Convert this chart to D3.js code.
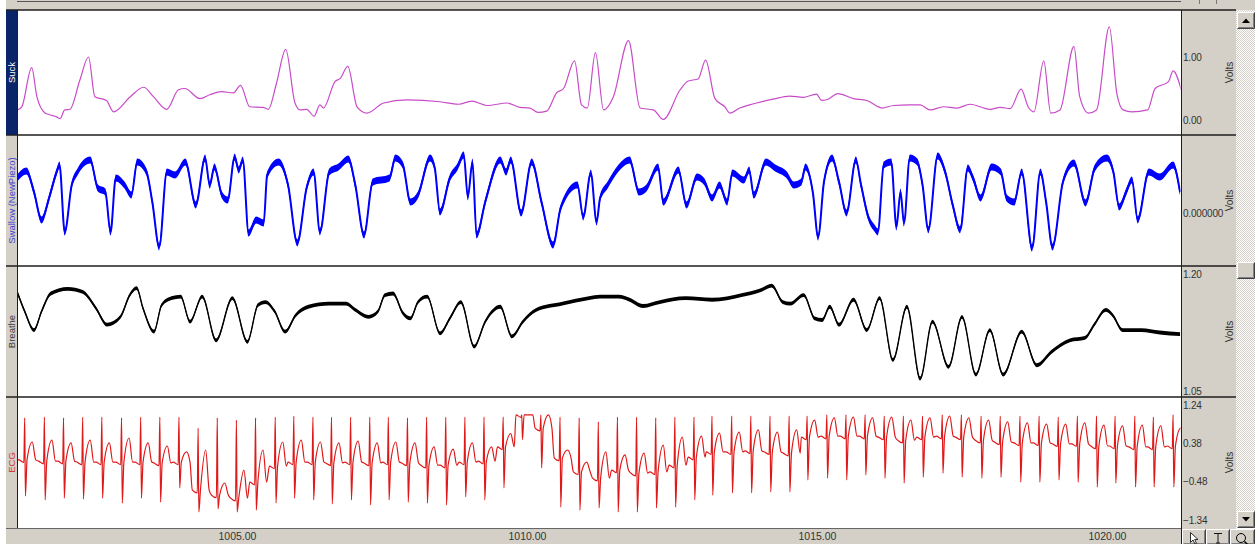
<!DOCTYPE html>
<html>
<head>
<meta charset="utf-8">
<script src="https://cdn.jsdelivr.net/npm/d3@7"></script>
<style>
  body { margin: 0; background: #fff; overflow: hidden; }
  text { font-family: Arial, "Liberation Sans", sans-serif; }
</style>
</head>
<body>
<div id="main"></div>
<script>
// time window shown (s) and the bottom tick labels
const timeRange = [1001.207, 1021.276];
const timeTicks = [1005, 1010, 1015, 1020];

// right hand tick values per channel
const suckTicks = [0, 1];
const swallowTicks = [0];
const breatheTicks = [1.05, 1.20];
const ecgTicks = [-1.34, -0.48, 0.38, 1.24];

// Suck (V) : [time, value]
const suckData = [
  [1001.21, 0.16], [1001.29, 0.21], [1001.46, 0.83], [1001.55, 0.37], [1001.69, 0.11], [1001.78, 0.08],
  [1001.89, 0.05], [1001.95, 0.02], [1002.03, 0.16], [1002.12, 0.17], [1002.29, 0.63], [1002.44, 1.00],
  [1002.55, 0.37], [1002.75, 0.31], [1002.87, 0.13], [1003.16, 0.37], [1003.39, 0.52], [1003.56, 0.37],
  [1003.79, 0.17], [1003.99, 0.48], [1004.10, 0.50], [1004.36, 0.34], [1004.53, 0.40], [1004.73, 0.45],
  [1004.94, 0.43], [1005.06, 0.55], [1005.22, 0.21], [1005.45, 0.20], [1005.54, 0.17], [1005.68, 0.58],
  [1005.84, 1.12], [1006.00, 0.27], [1006.09, 0.16], [1006.20, 0.17], [1006.33, 0.06], [1006.43, 0.24],
  [1006.49, 0.19], [1006.69, 0.61], [1006.78, 0.66], [1006.91, 0.85], [1007.07, 0.21], [1007.24, 0.11],
  [1007.53, 0.27], [1007.93, 0.32], [1008.50, 0.29], [1008.82, 0.25], [1009.05, 0.30], [1009.31, 0.23],
  [1009.66, 0.27], [1009.88, 0.20], [1010.05, 0.19], [1010.19, 0.12], [1010.34, 0.14], [1010.51, 0.43],
  [1010.63, 0.50], [1010.82, 0.94], [1010.94, 0.24], [1011.04, 0.19], [1011.18, 1.07], [1011.32, 0.16],
  [1011.49, 0.37], [1011.75, 1.26], [1011.95, 0.19], [1012.18, 0.16], [1012.35, 0.01], [1012.64, 0.48],
  [1012.78, 0.62], [1012.95, 0.65], [1013.08, 0.95], [1013.24, 0.34], [1013.41, 0.21], [1013.50, 0.11],
  [1013.67, 0.19], [1013.84, 0.24], [1013.96, 0.27], [1014.24, 0.33], [1014.53, 0.38], [1014.76, 0.36],
  [1014.99, 0.41], [1015.08, 0.31], [1015.19, 0.33], [1015.36, 0.42], [1015.63, 0.34], [1015.86, 0.31],
  [1016.12, 0.19], [1016.32, 0.23], [1016.60, 0.24], [1016.78, 0.24], [1016.95, 0.16], [1017.18, 0.21],
  [1017.41, 0.19], [1017.64, 0.25], [1017.98, 0.17], [1018.16, 0.20], [1018.33, 0.18], [1018.52, 0.49],
  [1018.64, 0.21], [1018.74, 0.13], [1018.91, 0.94], [1019.03, 0.11], [1019.19, 0.16], [1019.43, 1.17],
  [1019.53, 0.37], [1019.68, 0.11], [1019.82, 0.16], [1020.04, 1.48], [1020.17, 0.42], [1020.28, 0.16],
  [1020.43, 0.13], [1020.70, 0.16], [1020.83, 0.50], [1021.06, 0.61], [1021.14, 0.78], [1021.28, 0.48]
];

// Swallow (NewPiezo), mV : [time, value]
const swallowData = [
  [1001.21, 0.35], [1001.37, 0.42], [1001.50, 0.21], [1001.63, -0.07], [1001.76, 0.15], [1001.89, 0.41],
  [1001.94, 0.48], [1002.03, -0.19], [1002.15, 0.28], [1002.25, 0.41], [1002.47, 0.53], [1002.60, 0.25],
  [1002.73, 0.21], [1002.82, -0.19], [1002.91, 0.35], [1003.06, 0.28], [1003.18, 0.18], [1003.28, 0.51],
  [1003.44, 0.41], [1003.54, 0.11], [1003.66, -0.34], [1003.79, 0.41], [1003.93, 0.38], [1004.11, 0.51],
  [1004.29, 0.08], [1004.45, 0.55], [1004.53, 0.28], [1004.61, 0.46], [1004.74, 0.18], [1004.84, 0.13],
  [1004.96, 0.56], [1005.03, 0.43], [1005.10, 0.53], [1005.20, -0.20], [1005.33, -0.07], [1005.46, -0.10],
  [1005.52, 0.38], [1005.72, 0.51], [1005.88, 0.28], [1006.04, -0.30], [1006.20, 0.25], [1006.32, 0.41],
  [1006.43, -0.19], [1006.59, 0.41], [1006.75, 0.46], [1006.92, 0.54], [1007.04, 0.28], [1007.19, -0.22],
  [1007.34, 0.31], [1007.63, 0.35], [1007.73, 0.55], [1007.86, 0.48], [1007.99, 0.11], [1008.12, 0.18],
  [1008.33, 0.55], [1008.41, 0.45], [1008.50, 0.01], [1008.67, 0.35], [1008.80, 0.46], [1008.91, 0.58],
  [1008.98, 0.16], [1009.06, 0.51], [1009.13, -0.22], [1009.28, 0.11], [1009.54, 0.53], [1009.64, 0.41],
  [1009.72, 0.53], [1009.90, 0.00], [1010.08, 0.51], [1010.25, 0.11], [1010.45, -0.32], [1010.58, 0.05],
  [1010.87, 0.28], [1010.97, -0.04], [1011.10, 0.40], [1011.20, -0.09], [1011.26, 0.15], [1011.39, 0.28],
  [1011.58, 0.45], [1011.77, 0.53], [1011.93, 0.21], [1012.06, 0.25], [1012.26, 0.46], [1012.35, 0.11],
  [1012.61, 0.43], [1012.75, 0.08], [1012.93, 0.36], [1013.06, 0.31], [1013.19, 0.15], [1013.32, 0.28],
  [1013.45, 0.11], [1013.54, 0.40], [1013.74, 0.33], [1013.83, 0.43], [1013.91, 0.18], [1014.12, 0.51],
  [1014.28, 0.45], [1014.48, 0.38], [1014.60, 0.28], [1014.73, 0.31], [1014.80, 0.46], [1014.93, 0.20],
  [1015.02, -0.24], [1015.12, 0.31], [1015.26, 0.55], [1015.38, 0.31], [1015.51, 0.00], [1015.67, 0.53],
  [1015.76, 0.28], [1015.89, -0.05], [1015.99, -0.15], [1016.05, -0.19], [1016.15, 0.48], [1016.28, 0.51],
  [1016.37, -0.14], [1016.44, 0.21], [1016.50, -0.10], [1016.60, 0.55], [1016.73, 0.51], [1016.82, 0.28],
  [1016.92, -0.17], [1017.08, 0.57], [1017.21, 0.41], [1017.34, 0.08], [1017.47, -0.17], [1017.60, 0.45],
  [1017.69, 0.35], [1017.82, 0.15], [1018.01, 0.46], [1018.17, 0.41], [1018.27, 0.15], [1018.40, 0.11],
  [1018.53, 0.41], [1018.71, -0.35], [1018.85, 0.41], [1018.95, 0.11], [1019.06, -0.34], [1019.24, 0.31],
  [1019.43, 0.50], [1019.63, 0.10], [1019.79, 0.45], [1020.00, 0.55], [1020.11, 0.41], [1020.21, 0.06],
  [1020.33, 0.21], [1020.43, 0.33], [1020.53, -0.07], [1020.72, 0.41], [1020.91, 0.36], [1021.14, 0.48],
  [1021.26, 0.21]
];

// Breathe (V) : [time, value]
const breatheData = [
  [1001.21, 1.177], [1001.34, 1.152], [1001.50, 1.128], [1001.63, 1.152], [1001.79, 1.175], [1002.08, 1.181],
  [1002.34, 1.177], [1002.57, 1.156], [1002.76, 1.135], [1002.99, 1.145], [1003.15, 1.173], [1003.27, 1.182],
  [1003.38, 1.156], [1003.57, 1.126], [1003.70, 1.160], [1003.87, 1.169], [1004.03, 1.171], [1004.19, 1.139],
  [1004.40, 1.171], [1004.64, 1.115], [1004.92, 1.169], [1005.18, 1.113], [1005.36, 1.160], [1005.49, 1.164],
  [1005.65, 1.152], [1005.83, 1.126], [1006.01, 1.147], [1006.23, 1.158], [1006.59, 1.162], [1006.88, 1.162],
  [1007.04, 1.154], [1007.27, 1.145], [1007.43, 1.152], [1007.55, 1.173], [1007.69, 1.175], [1007.86, 1.150],
  [1007.99, 1.143], [1008.12, 1.164], [1008.28, 1.171], [1008.50, 1.124], [1008.67, 1.143], [1008.86, 1.164],
  [1009.09, 1.107], [1009.28, 1.139], [1009.54, 1.158], [1009.74, 1.120], [1009.93, 1.139], [1010.16, 1.154],
  [1010.61, 1.162], [1011.07, 1.169], [1011.26, 1.171], [1011.58, 1.171], [1011.77, 1.167], [1012.00, 1.159],
  [1012.29, 1.164], [1012.74, 1.169], [1013.19, 1.167], [1013.70, 1.173], [1014.02, 1.179], [1014.22, 1.185],
  [1014.41, 1.164], [1014.54, 1.162], [1014.77, 1.173], [1014.96, 1.143], [1015.09, 1.141], [1015.22, 1.158],
  [1015.38, 1.135], [1015.63, 1.167], [1015.86, 1.128], [1016.08, 1.169], [1016.31, 1.090], [1016.55, 1.158],
  [1016.78, 1.066], [1016.99, 1.139], [1017.27, 1.081], [1017.50, 1.145], [1017.74, 1.071], [1017.98, 1.128],
  [1018.21, 1.071], [1018.53, 1.126], [1018.79, 1.083], [1019.04, 1.100], [1019.36, 1.115], [1019.62, 1.118],
  [1019.78, 1.135], [1019.98, 1.154], [1020.10, 1.147], [1020.27, 1.128], [1020.59, 1.128], [1020.91, 1.125],
  [1021.26, 1.123]
];

// ECG beats (V) : [R time, R peak, S trough, baseline, T peak]
const ecgBeats = [
  [1001.34, 0.95, -0.80, 0.01, 0.41], [1001.68, 0.97, -0.89, -0.02, 0.45], [1002.01, 0.95, -0.85, -0.02, 0.39],
  [1002.34, 0.97, -0.87, -0.04, 0.45], [1002.67, 0.97, -0.85, -0.04, 0.39], [1003.01, 0.95, -0.96, -0.04, 0.50],
  [1003.34, 0.97, -0.85, -0.04, 0.39], [1003.67, 0.97, -0.94, -0.06, 0.32], [1004.00, 0.97, -0.62, -0.04, 0.19],
  [1004.33, 0.72, -1.16, -0.67, 0.23], [1004.66, 0.95, -1.09, -0.78, -0.51], [1004.99, 0.90, -1.16, -0.85, -0.22],
  [1005.32, 0.95, -1.12, -0.49, 0.23], [1005.66, 0.97, -0.96, -0.13, 0.41], [1005.98, 0.99, -0.85, -0.04, 0.45],
  [1006.31, 0.97, -0.89, -0.04, 0.41], [1006.63, 0.97, -0.98, -0.06, 0.39], [1006.96, 0.97, -0.89, -0.04, 0.43],
  [1007.29, 0.97, -1.00, -0.06, 0.39], [1007.61, 0.97, -0.89, -0.04, 0.41], [1007.94, 0.95, -0.94, -0.06, 0.39],
  [1008.27, 0.97, -0.96, -0.11, 0.30], [1008.60, 0.97, -1.00, -0.11, 0.25], [1008.93, 0.97, -0.82, -0.04, 0.39],
  [1009.26, 0.97, -0.89, -0.02, 0.30], [1009.59, 0.97, -0.62, 0.30, 0.60], [1009.91, 1.02, 0.46, 1.02, 1.02],
  [1010.24, 1.02, -0.17, 0.72, 1.02], [1010.57, 0.97, -1.05, 0.05, 0.23], [1010.90, 0.95, -1.12, -0.26, -0.04],
  [1011.23, 0.86, -1.07, -0.40, 0.19], [1011.56, 0.97, -1.16, -0.22, 0.12], [1011.89, 0.97, -1.16, -0.29, 0.16],
  [1012.22, 0.95, -1.07, -0.26, 0.34], [1012.55, 0.97, -1.05, -0.11, 0.52], [1012.88, 0.97, -0.89, 0.07, 0.54],
  [1013.19, 0.99, -0.78, 0.19, 0.61], [1013.53, 0.99, -0.73, 0.19, 0.63], [1013.86, 0.99, -0.73, 0.21, 0.68],
  [1014.19, 0.99, -0.71, 0.19, 0.63], [1014.52, 0.99, -0.71, 0.16, 0.68], [1014.83, 0.99, -0.44, 0.52, 0.90],
  [1015.17, 1.02, -0.40, 0.54, 0.95], [1015.50, 1.02, -0.44, 0.54, 0.97], [1015.83, 1.02, -0.33, 0.54, 0.95],
  [1016.16, 0.99, -0.40, 0.52, 0.97], [1016.49, 0.99, -0.51, 0.45, 0.90], [1016.82, 0.99, -0.38, 0.52, 0.95],
  [1017.16, 1.02, -0.29, 0.54, 0.99], [1017.49, 1.02, -0.38, 0.52, 0.95], [1017.83, 0.99, -0.40, 0.45, 0.90],
  [1018.16, 0.99, -0.38, 0.41, 0.86], [1018.50, 0.99, -0.49, 0.39, 0.84], [1018.83, 0.99, -0.49, 0.39, 0.81],
  [1019.16, 0.97, -0.44, 0.37, 0.81], [1019.49, 0.99, -0.49, 0.37, 0.84], [1019.82, 0.99, -0.60, 0.32, 0.79],
  [1020.14, 0.99, -0.51, 0.32, 0.77], [1020.48, 0.99, -0.60, 0.30, 0.79], [1020.80, 0.97, -0.60, 0.30, 0.77],
  [1021.14, 1.02, -0.60, 0.32, 0.72]
];

const ctx = {
    width: 1255,
    height: 544,
    stripLeft: 6,
    plotLeft: 17,
    plotRight: 1181,
    axisRight: 1236,
    top: 10,
    bottom: 528,
    gray: "#d4d0c8"
};

const x = d3.scaleLinear().domain(timeRange).range([ctx.plotLeft, ctx.plotRight]);

const panels = [
    {id: "suck", label: "Suck", top: 10, bottom: 135, strip: "#0a246a", labelColor: "#ffffff",
     y: d3.scaleLinear().domain([0, 1]).range([120, 57]), ticks: suckTicks, fmt: d3.format(".2f")},
    {id: "swallow", label: "Swallow (NewPiezo)", top: 135, bottom: 266, strip: ctx.gray, labelColor: "#4444cc",
     y: d3.scaleLinear().domain([0, 1]).range([213, 113]), ticks: swallowTicks, fmt: d3.format(".6f")},
    {id: "breathe", label: "Breathe", top: 266, bottom: 397, strip: ctx.gray, labelColor: "#3a3a3a",
     y: d3.scaleLinear().domain([1.05, 1.20]).range([391, 274]), ticks: breatheTicks, fmt: d3.format(".2f")},
    {id: "ecg", label: "ECG", top: 397, bottom: 528, strip: ctx.gray, labelColor: "#d03a3a",
     y: d3.scaleLinear().domain([-1.34, 1.24]).range([520, 405]), ticks: ecgTicks, fmt: d3.format(".2f")}
];

// ecg polyline from the beat table
function beatPoints(rows) {
    const pts = [{t: timeRange[0] - 0.01, v: rows[0][3]}];
    rows.forEach(([t, r, s, b, tw]) => {
        pts.push({t: t - 0.10, v: b}, {t: t - 0.015, v: b - 0.06}, {t: t, v: r},
                 {t: t + 0.012, v: s}, {t: t + 0.04, v: b}, {t: t + 0.13, v: tw}, {t: t + 0.19, v: b});
    });
    return pts;
}

function drawTrace(g, pts, y, color, hw, lw, curve) {
    if (hw > 0) {
        const band = d3.area()
            .x(d => x(d.t))
            .y0(d => y(d.v) + hw)
            .y1(d => y(d.v) - hw)
            .curve(curve);
        g.append("path").attr("d", band(pts)).attr("fill", color);
    }
    const line = d3.line().x(d => x(d.t)).y(d => y(d.v)).curve(curve);
    g.append("path")
        .attr("d", line(pts))
        .attr("fill", "none")
        .attr("stroke", color)
        .attr("stroke-width", lw)
        .attr("stroke-linejoin", "round");
}

function bevel(g, x0, y0, w, h) {
    g.append("rect").attr("x", x0).attr("y", y0).attr("width", w).attr("height", h).attr("fill", ctx.gray);
    g.append("path").attr("d", `M${x0 + 0.5},${y0 + h - 1}V${y0 + 0.5}H${x0 + w - 1}`)
        .attr("stroke", "#ffffff").attr("fill", "none");
    g.append("path").attr("d", `M${x0 + 0.5},${y0 + h - 0.5}H${x0 + w - 0.5}V${y0 + 0.5}`)
        .attr("stroke", "#404040").attr("fill", "none");
    g.append("path").attr("d", `M${x0 + 1.5},${y0 + h - 1.5}H${x0 + w - 1.5}V${y0 + 1.5}`)
        .attr("stroke", "#808080").attr("fill", "none");
}

const svg = d3.select("#main").append("svg")
    .attr("width", ctx.width)
    .attr("height", ctx.height);

const defs = svg.append("defs");
const dither = defs.append("pattern").attr("id", "dither")
    .attr("width", 2).attr("height", 2).attr("patternUnits", "userSpaceOnUse");
dither.append("rect").attr("width", 2).attr("height", 2).attr("fill", "#ffffff");
dither.append("rect").attr("width", 1).attr("height", 1).attr("fill", ctx.gray);
dither.append("rect").attr("x", 1).attr("y", 1).attr("width", 1).attr("height", 1).attr("fill", ctx.gray);

// window frame
svg.append("rect").attr("width", ctx.width).attr("height", ctx.height).attr("fill", "#ffffff");
svg.append("rect").attr("x", ctx.stripLeft).attr("y", 0)
    .attr("width", ctx.axisRight - ctx.stripLeft).attr("height", ctx.height).attr("fill", ctx.gray);
svg.append("rect").attr("x", ctx.axisRight).attr("y", ctx.top)
    .attr("width", ctx.width - ctx.axisRight).attr("height", ctx.bottom - ctx.top).attr("fill", "url(#dither)");
svg.append("rect").attr("x", ctx.axisRight).attr("y", 0)
    .attr("width", ctx.width - ctx.axisRight).attr("height", ctx.top).attr("fill", ctx.gray);
svg.append("line").attr("x1", ctx.plotLeft).attr("x2", ctx.plotRight).attr("y1", 1.5).attr("y2", 1.5)
    .attr("stroke", "#555").attr("stroke-width", 1);
[1199, 1216].forEach(px => svg.append("line").attr("x1", px + 0.5).attr("x2", px + 0.5)
    .attr("y1", 0).attr("y2", 4).attr("stroke", "#777"));

panels.forEach(p => {
    const h = p.bottom - p.top;
    svg.append("rect").attr("x", ctx.plotLeft).attr("y", p.top)
        .attr("width", ctx.plotRight - ctx.plotLeft).attr("height", h).attr("fill", "#ffffff");
    svg.append("rect").attr("x", ctx.stripLeft).attr("y", p.top)
        .attr("width", ctx.plotLeft - ctx.stripLeft).attr("height", h).attr("fill", p.strip);

    defs.append("clipPath").attr("id", `clip-${p.id}`)
        .append("rect").attr("x", ctx.plotLeft + 0.5).attr("y", p.top + 0.5)
        .attr("width", ctx.plotRight - ctx.plotLeft - 1).attr("height", h - 1);

    const mid = (p.top + p.bottom) / 2;
    svg.append("text")
        .attr("transform", `translate(${ctx.stripLeft + 8.5},${mid}) rotate(-90)`)
        .attr("text-anchor", "middle")
        .style("font-size", "9.5px")
        .style("fill", p.labelColor)
        .text(p.label);

    svg.append("text")
        .attr("transform", `translate(${1233},${mid}) rotate(-90)`)
        .attr("text-anchor", "middle")
        .style("font-size", "10px")
        .style("fill", "#333")
        .text("Volts");

    const ax = svg.append("g")
        .attr("transform", `translate(${ctx.plotRight},0)`)
        .call(d3.axisRight(p.y).tickValues(p.ticks).tickSize(0).tickPadding(2).tickFormat(p.fmt));
    ax.select(".domain").remove();
    ax.selectAll("text")
        .attr("font-family", "Arial, 'Liberation Sans', sans-serif")
        .style("font-size", "10px")
        .style("letter-spacing", "-0.2px")
        .style("fill", "#333");
});

const byId = Object.fromEntries(panels.map(p => [p.id, p]));
const toPts = data => data.map(d => ({t: d[0], v: d[1]}));

const gSuck = svg.append("g").attr("clip-path", "url(#clip-suck)");
drawTrace(gSuck, toPts(suckData), byId.suck.y, "#c84bc8", 0, 1.2, d3.curveMonotoneX);

const gSwallow = svg.append("g").attr("clip-path", "url(#clip-swallow)");
drawTrace(gSwallow, toPts(swallowData), byId.swallow.y, "#0000ff", 3.6, 2, d3.curveMonotoneX);

const gBreathe = svg.append("g").attr("clip-path", "url(#clip-breathe)");
drawTrace(gBreathe, toPts(breatheData), byId.breathe.y, "#000000", 1.9, 1.4, d3.curveMonotoneX);

const gEcg = svg.append("g").attr("clip-path", "url(#clip-ecg)");
drawTrace(gEcg, beatPoints(ecgBeats), byId.ecg.y, "#e01818", 0, 1.2, d3.curveMonotoneX);

// separators and borders
[10, 135, 266, 397].forEach(py => svg.append("line")
    .attr("x1", ctx.stripLeft).attr("x2", ctx.axisRight).attr("y1", py).attr("y2", py)
    .attr("stroke", "#1e1e1e").attr("stroke-width", 1.5));
svg.append("line").attr("x1", ctx.stripLeft).attr("x2", ctx.plotRight)
    .attr("y1", ctx.bottom + 0.5).attr("y2", ctx.bottom + 0.5).attr("stroke", "#666");
svg.append("line").attr("x1", ctx.plotLeft + 0.5).attr("x2", ctx.plotLeft + 0.5)
    .attr("y1", ctx.top).attr("y2", ctx.bottom).attr("stroke", "#1e1e1e");
svg.append("line").attr("x1", ctx.plotRight + 0.5).attr("x2", ctx.plotRight + 0.5)
    .attr("y1", ctx.top).attr("y2", ctx.height).attr("stroke", "#1e1e1e");

// time axis
const xa = svg.append("g")
    .attr("transform", `translate(0,${ctx.bottom + 1})`)
    .call(d3.axisBottom(x).tickValues(timeTicks).tickSize(0).tickPadding(4).tickFormat(d3.format(".2f")));
xa.select(".domain").remove();
xa.selectAll("text")
    .attr("font-family", "Arial, 'Liberation Sans', sans-serif")
    .style("font-size", "10.5px")
    .style("fill", "#333");

// scroll bar
const sb = svg.append("g");
bevel(sb, 1237, 12, 18, 17);
sb.append("path").attr("d", "M1242,23L1250,23L1246,18.5Z").attr("fill", "#000");
bevel(sb, 1237, 262, 18, 17);
bevel(sb, 1237, 511, 18, 17);
sb.append("path").attr("d", "M1242,517L1250,517L1246,521.5Z").attr("fill", "#000");

// tool buttons
const tb = svg.append("g");
bevel(tb, 1182, 529, 24, 16);
bevel(tb, 1206, 529, 24, 16);
bevel(tb, 1230, 529, 25, 16);
tb.append("path").attr("d", "M1190.5,532.5V542.5L1193,540L1195,544L1196.5,543.3L1194.7,539.5H1198Z")
    .attr("fill", "#ffffff").attr("stroke", "#000").attr("stroke-width", 0.8);
tb.append("path").attr("d", "M1214,533.5H1222M1218,533.5V543M1216,543H1220")
    .attr("stroke", "#000").attr("stroke-width", 0.9).attr("fill", "none");
tb.append("circle").attr("cx", 1241).attr("cy", 538).attr("r", 4.5)
    .attr("fill", "none").attr("stroke", "#000").attr("stroke-width", 1);
tb.append("path").attr("d", "M1244.5,541.5L1248,545").attr("stroke", "#000").attr("stroke-width", 1.5);
</script>
</body>
</html>
